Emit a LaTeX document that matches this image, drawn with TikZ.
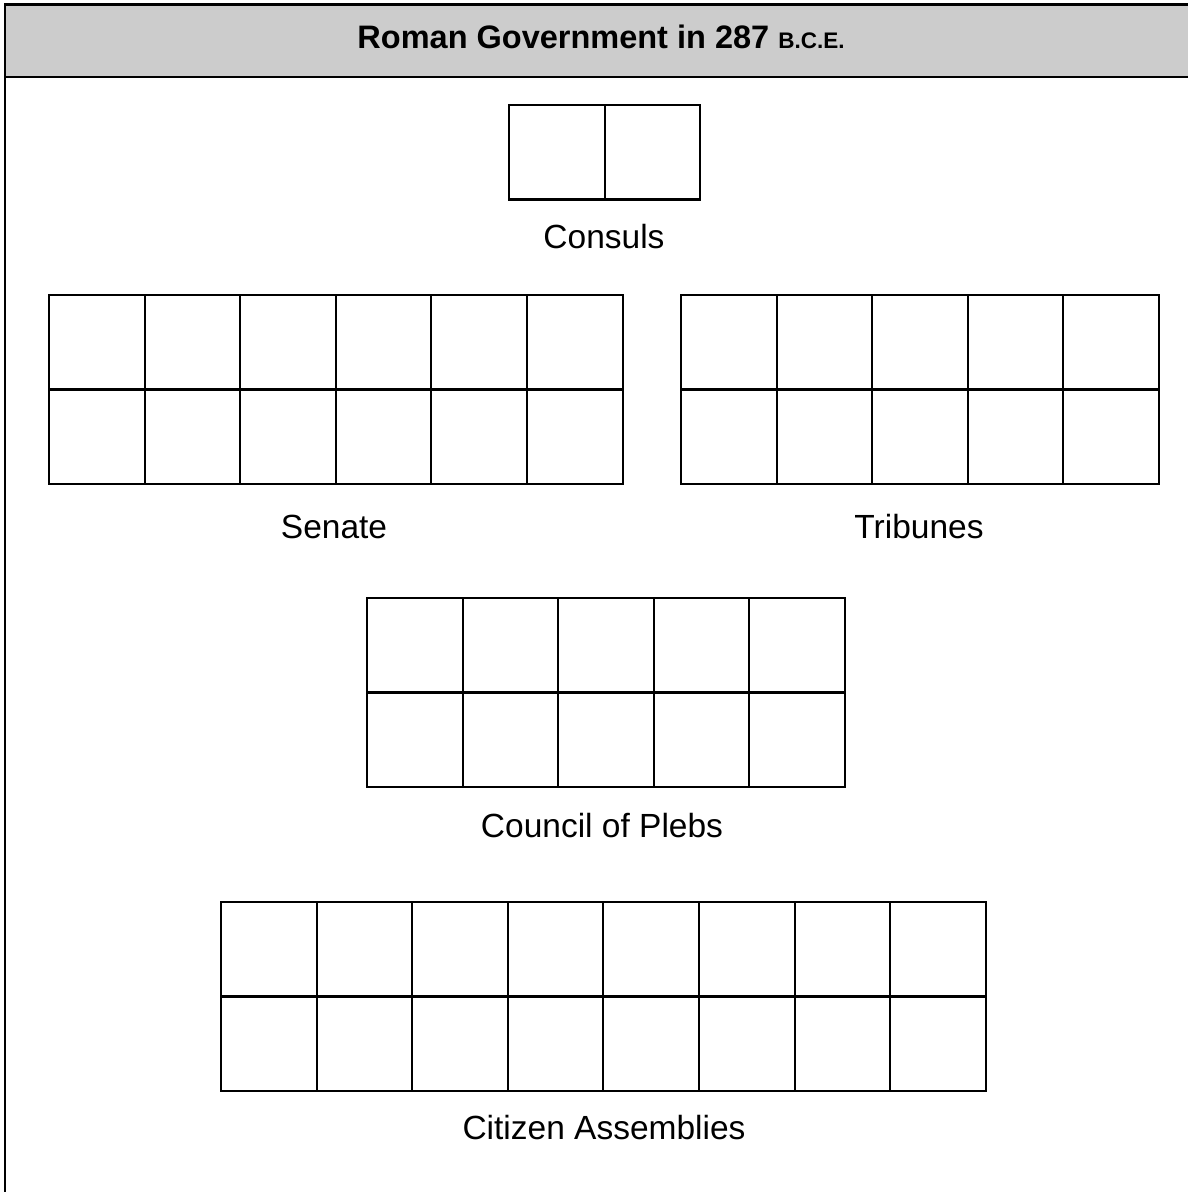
\documentclass[tikz,border=0pt]{standalone}
\usepackage{fontspec}
\setmainfont{Liberation Sans}
\begin{document}
\begin{tikzpicture}[x=1pt,y=-1pt,
  frameline/.style={line width=2.4pt,draw=black},
  gridline/.style={line width=2.1pt,draw=black,line cap=rect},
  lbl/.style={anchor=base,inner sep=0pt,font=\fontsize{33.5}{40}\selectfont},
  ttl/.style={anchor=base,inner sep=0pt,font=\fontsize{32.5}{39}\selectfont\bfseries}]
\useasboundingbox (0,0) rectangle (1188,1192);
\clip (0,0) rectangle (1188,1192);
% header band
\fill[black!20] (5,4.5) rectangle (1200,77);
\draw[frameline] (1200,4.5) -- (5,4.5) -- (5,1200);
\draw[frameline] (5,77) -- (1200,77);
\node[ttl] (title) at (601,48) {Roman Government in 287 {\fontsize{22.5}{27}\selectfont B.C.E.}};
% grids: #1 left x, #2 top y, #3 columns, #4 rows
\newcommand{\cellgrid}[4]{%
  \pgfmathsetmacro{\gw}{95.6*#3}%
  \pgfmathsetmacro{\gh}{94.5*#4}%
  \draw[gridline] (#1,#2) rectangle ++(\gw,\gh);
  \foreach \i in {1,...,#3}{\ifnum\i<#3\relax\draw[gridline] (#1+95.6*\i,#2) -- ++(0,\gh);\fi}
  \ifnum#4>1\relax\foreach \j in {1,...,#4}{\ifnum\j<#4\relax\draw[gridline] (#1,#2+94.5*\j) -- ++(\gw,0);\fi}\fi
}
\cellgrid{509}{105}{2}{1}
\cellgrid{49}{295}{6}{2}
\cellgrid{681}{295}{5}{2}
\cellgrid{367}{598}{5}{2}
\cellgrid{221}{902}{8}{2}
% labels
\node[lbl] (consuls) at (604,248) {Consuls};
\node[lbl] (senate) at (334,538) {Senate};
\node[lbl] (tribunes) at (919,538) {Tribunes};
\node[lbl] (council) at (602,837) {Council of Plebs};
\node[lbl] (citizen) at (604,1139) {Citizen Assemblies};
\end{tikzpicture}
\end{document}
